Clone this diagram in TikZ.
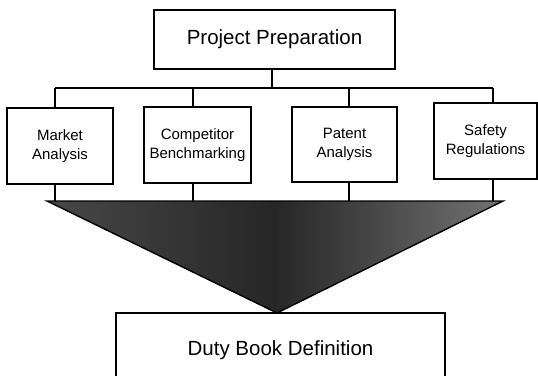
\documentclass[tikz,border=0pt]{standalone}
\usepackage{fontspec}
\setmainfont{Liberation Sans}
\begin{document}
\begin{tikzpicture}[x=1pt,y=-1pt,
  box/.style={draw=black,line width=1.2pt,fill=white,inner sep=0pt,align=center},
  bigtext/.style={font=\fontsize{20.5}{24}\selectfont},
  smalltext/.style={font=\fontsize{15}{18.3}\selectfont},
  conn/.style={draw=black,line width=1.1pt}]
\useasboundingbox (0,0) rectangle (538,375);
\begin{scope}
\clip (0,0) rectangle (538,375);
\fill[white] (0,0) rectangle (538,375);
% nodes
\node[box,bigtext,minimum width=241pt,minimum height=59pt] (top) at (274.5,39.5) {Project Preparation};
\node[box,smalltext,minimum width=106pt,minimum height=76pt] (market) at (60,146) {Market\\Analysis};
\node[box,smalltext,minimum width=107pt,minimum height=76pt] (comp) at (197.5,145) {Competitor\\Benchmarking};
\node[box,smalltext,minimum width=105pt,minimum height=75pt] (patent) at (344.5,144.5) {Patent\\Analysis};
\node[box,smalltext,minimum width=103pt,minimum height=76pt] (safety) at (485.5,141) {Safety\\Regulations};
\node[box,bigtext,minimum width=329pt,minimum height=74pt] (duty) at (280.5,350) {Duty Book Definition};
% coordinates
\coordinate (bus) at (272,88);
\coordinate (d1) at (55,88);
\coordinate (d2) at (193,88);
\coordinate (d3) at (349,88);
\coordinate (d4) at (493,88);
\coordinate (tl) at (47,201);
\coordinate (tr) at (503,201);
\coordinate (apex) at (277,313);
% connectors
\draw[conn] (top.south -| bus) -- (bus);
\draw[conn] (d1) -- (d4);
\draw[conn] (d1) -- (d1 |- market.north);
\draw[conn] (d2) -- (d2 |- comp.north);
\draw[conn] (d3) -- (d3 |- patent.north);
\draw[conn] (d4) -- (d4 |- safety.north);
\draw[conn] (d1 |- market.south) -- (d1 |- tl);
\draw[conn] (d2 |- comp.south) -- (d2 |- tl);
\draw[conn] (d3 |- patent.south) -- (d3 |- tl);
\draw[conn] (d4 |- safety.south) -- (d4 |- tl);
% funnel
\shade[left color=black!72,right color=black!55,middle color=black!85,draw=black,line width=1.4pt,line join=miter] (tl) -- (tr) -- (apex) -- cycle;
\end{scope}
\end{tikzpicture}
\end{document}
